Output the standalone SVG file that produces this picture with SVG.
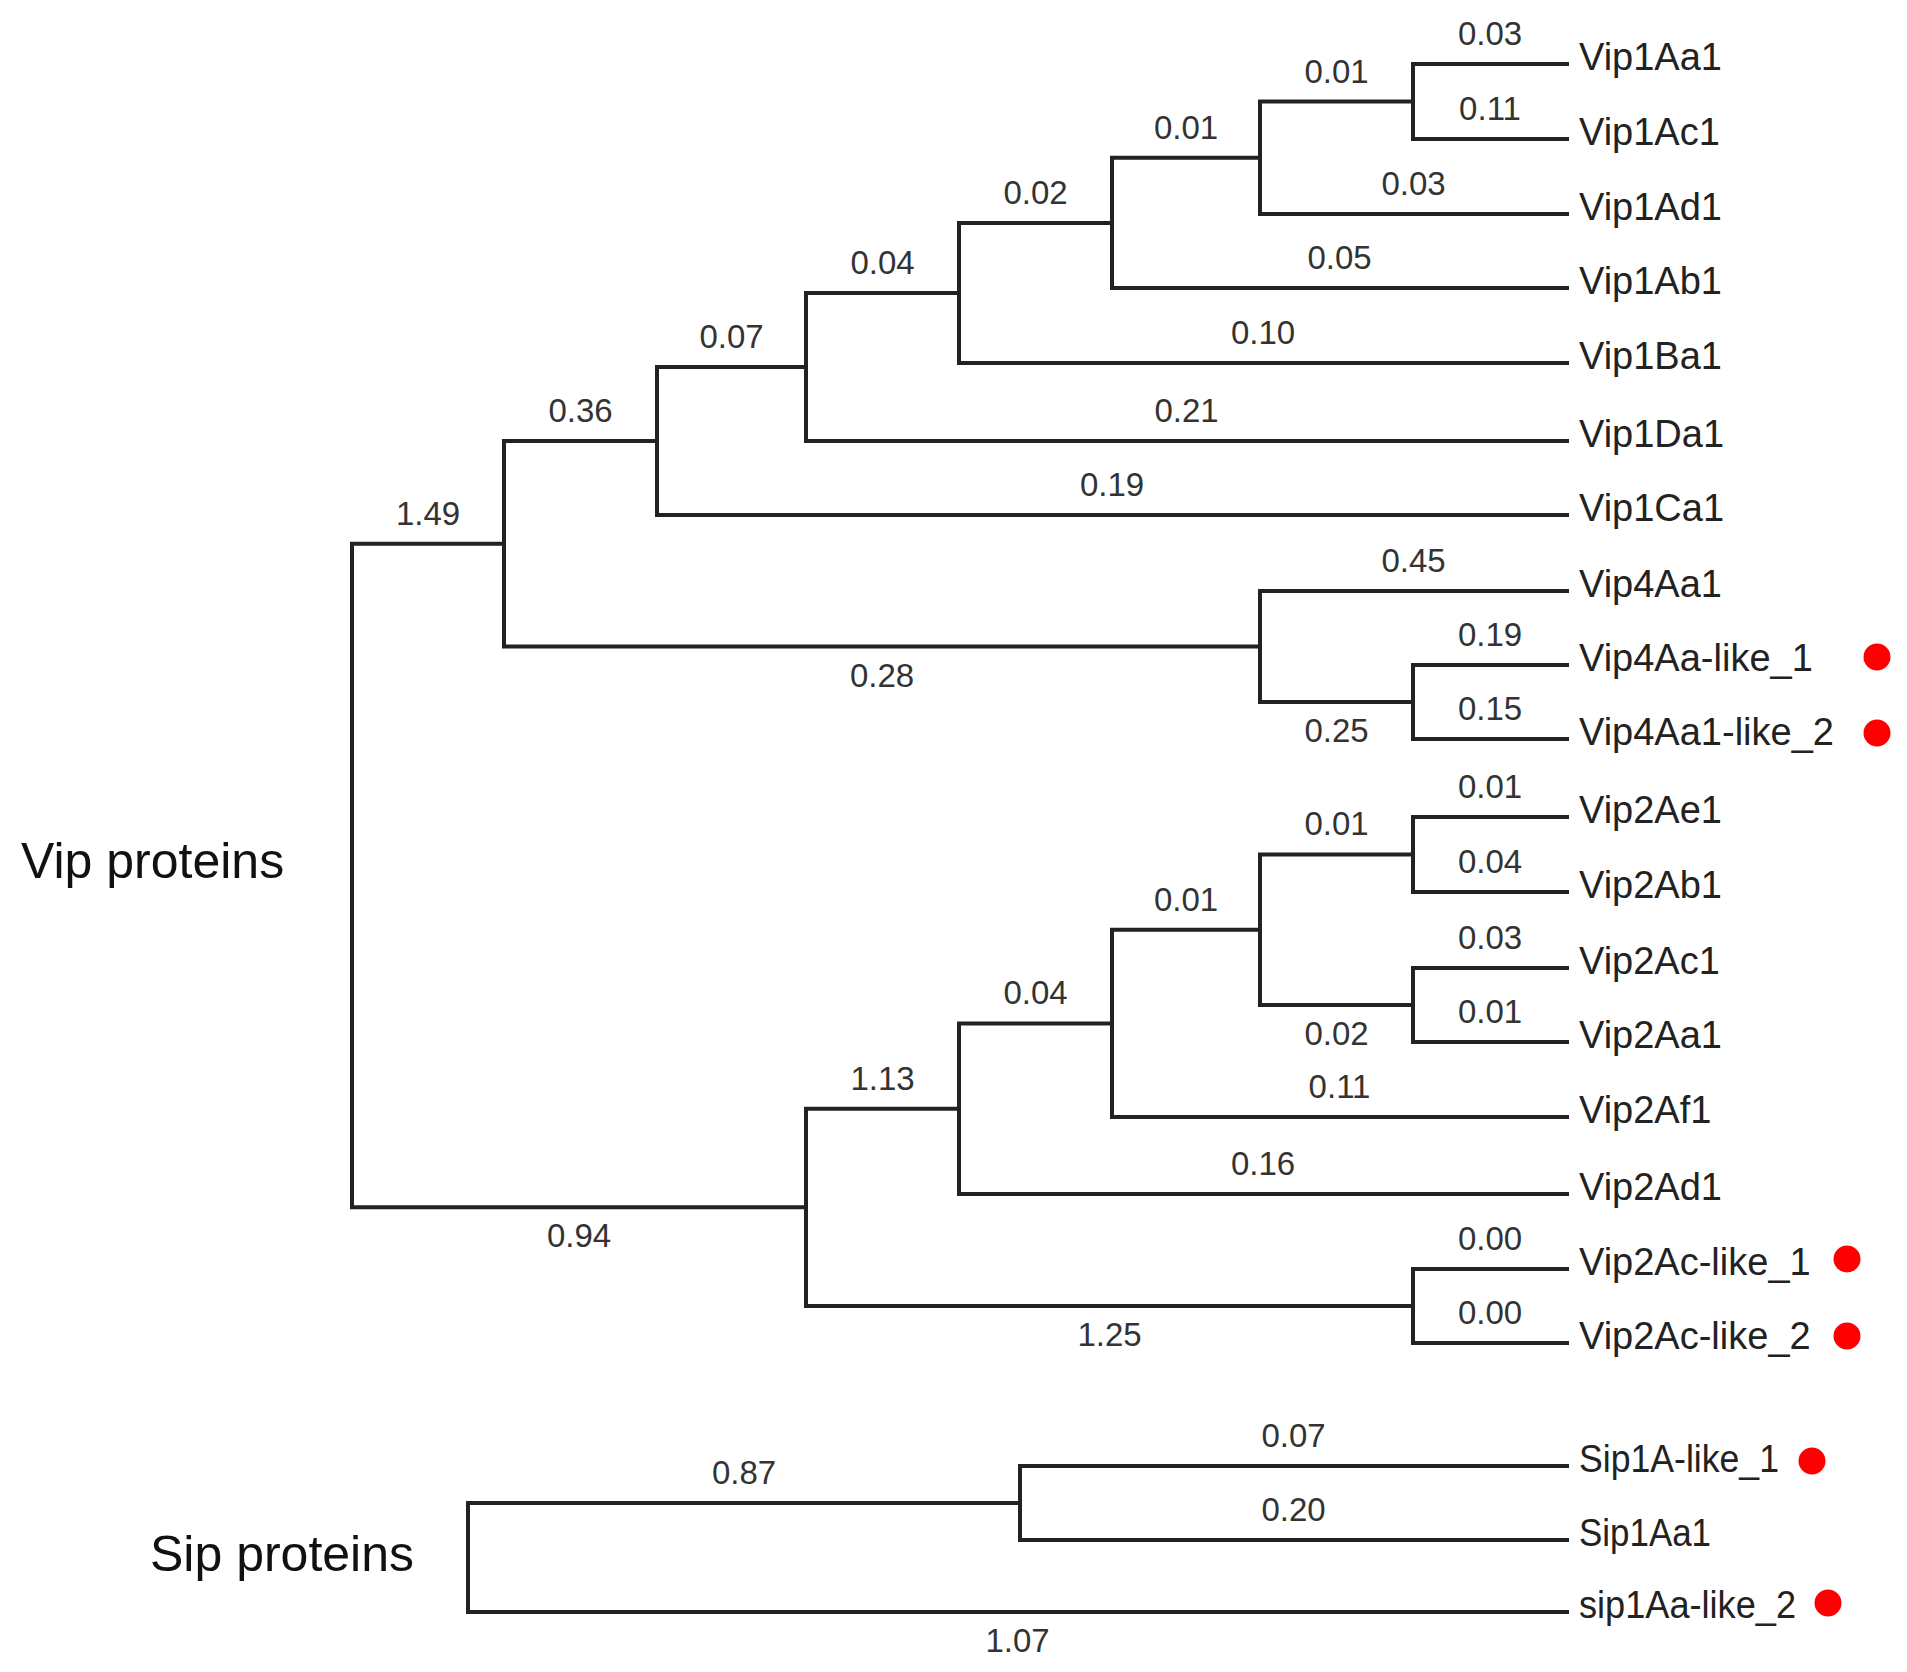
<svg xmlns="http://www.w3.org/2000/svg" width="1907" height="1672" viewBox="0 0 1907 1672">
<style>
.br{fill:none;stroke:#222;stroke-width:4;stroke-linejoin:miter;stroke-linecap:square}
.bl{font-family:"Liberation Sans",Arial,sans-serif;font-size:33px;fill:#333;text-anchor:middle}
.leaf{font-family:"Liberation Sans",Arial,sans-serif;font-size:38px;fill:#222}
.grp{font-family:"Liberation Sans",Arial,sans-serif;font-size:50px;fill:#111}
.dot{fill:#ff0000}
</style>
<rect width="1907" height="1672" fill="#fff"/>
<g id="connectors">
<path class="br" d="M1567 64 H1413 V139 H1567"/>
<path class="br" d="M1413 101.5 H1260 V214 H1567"/>
<path class="br" d="M1260 157.75 H1112 V288 H1567"/>
<path class="br" d="M1112 222.9 H959 V363 H1567"/>
<path class="br" d="M959 293 H806 V441 H1567"/>
<path class="br" d="M806 367 H657 V515 H1567"/>
<path class="br" d="M1567 665 H1413 V739 H1567"/>
<path class="br" d="M1567 591 H1260 V702 H1413"/>
<path class="br" d="M657 441 H504 V646.5 H1260"/>
<path class="br" d="M1567 817 H1413 V892 H1567"/>
<path class="br" d="M1567 968 H1413 V1042 H1567"/>
<path class="br" d="M1413 854.5 H1260 V1005 H1413"/>
<path class="br" d="M1260 929.75 H1112 V1117 H1567"/>
<path class="br" d="M1112 1023.4 H959 V1194 H1567"/>
<path class="br" d="M1567 1269 H1413 V1343 H1567"/>
<path class="br" d="M959 1108.7 H806 V1306 H1413"/>
<path class="br" d="M504 543.75 H352 V1207.3 H806"/>
<path class="br" d="M1567 1466 H1020 V1540 H1567"/>
<path class="br" d="M1020 1503 H468 V1612 H1567"/>
<g id="branch-lengths">
<text class="bl" x="1490" y="45">0.03</text>
<text class="bl" x="1490" y="120">0.11</text>
<text class="bl" x="1336.5" y="82.5">0.01</text>
<text class="bl" x="1413.5" y="195">0.03</text>
<text class="bl" x="1186" y="139">0.01</text>
<text class="bl" x="1339.5" y="269">0.05</text>
<text class="bl" x="1035.5" y="204">0.02</text>
<text class="bl" x="1263" y="344">0.10</text>
<text class="bl" x="882.5" y="274">0.04</text>
<text class="bl" x="1186.5" y="422">0.21</text>
<text class="bl" x="731.5" y="348">0.07</text>
<text class="bl" x="1112" y="496">0.19</text>
<text class="bl" x="580.5" y="422">0.36</text>
<text class="bl" x="428" y="525">1.49</text>
<text class="bl" x="1413.5" y="572">0.45</text>
<text class="bl" x="1490" y="646">0.19</text>
<text class="bl" x="1490" y="720">0.15</text>
<text class="bl" x="1336.5" y="742">0.25</text>
<text class="bl" x="882" y="687">0.28</text>
<text class="bl" x="1490" y="798">0.01</text>
<text class="bl" x="1490" y="873">0.04</text>
<text class="bl" x="1336.5" y="835">0.01</text>
<text class="bl" x="1490" y="949">0.03</text>
<text class="bl" x="1490" y="1023">0.01</text>
<text class="bl" x="1336.5" y="1045">0.02</text>
<text class="bl" x="1186" y="911">0.01</text>
<text class="bl" x="1339.5" y="1098">0.11</text>
<text class="bl" x="1035.5" y="1004">0.04</text>
<text class="bl" x="1263" y="1175">0.16</text>
<text class="bl" x="882.5" y="1090">1.13</text>
<text class="bl" x="1490" y="1250">0.00</text>
<text class="bl" x="1490" y="1324">0.00</text>
<text class="bl" x="1109.5" y="1346">1.25</text>
<text class="bl" x="579" y="1247">0.94</text>
<text class="bl" x="1293.5" y="1447">0.07</text>
<text class="bl" x="1293.5" y="1521">0.20</text>
<text class="bl" x="744" y="1484">0.87</text>
<text class="bl" x="1017.5" y="1652">1.07</text>
</g>
</g>
<g id="Vip1Aa1"><text class="leaf" x="1579" y="70">Vip1Aa1</text></g>
<g id="Vip1Ac1"><text class="leaf" x="1579" y="145">Vip1Ac1</text></g>
<g id="Vip1Ad1"><text class="leaf" x="1579" y="220">Vip1Ad1</text></g>
<g id="Vip1Ab1"><text class="leaf" x="1579" y="294">Vip1Ab1</text></g>
<g id="Vip1Ba1"><text class="leaf" x="1579" y="369">Vip1Ba1</text></g>
<g id="Vip1Da1"><text class="leaf" x="1579" y="447">Vip1Da1</text></g>
<g id="Vip1Ca1"><text class="leaf" x="1579" y="521">Vip1Ca1</text></g>
<g id="Vip4Aa1"><text class="leaf" x="1579" y="597">Vip4Aa1</text></g>
<g id="Vip4Aa-like_1"><text class="leaf" x="1579" y="671">Vip4Aa-like_1</text><circle class="dot" cx="1877" cy="657" r="13.5"/></g>
<g id="Vip4Aa1-like_2"><text class="leaf" x="1579" y="745">Vip4Aa1-like_2</text><circle class="dot" cx="1877" cy="733" r="13.5"/></g>
<g id="Vip2Ae1"><text class="leaf" x="1579" y="823">Vip2Ae1</text></g>
<g id="Vip2Ab1"><text class="leaf" x="1579" y="898">Vip2Ab1</text></g>
<g id="Vip2Ac1"><text class="leaf" x="1579" y="974">Vip2Ac1</text></g>
<g id="Vip2Aa1"><text class="leaf" x="1579" y="1048">Vip2Aa1</text></g>
<g id="Vip2Af1"><text class="leaf" x="1579" y="1123">Vip2Af1</text></g>
<g id="Vip2Ad1"><text class="leaf" x="1579" y="1200">Vip2Ad1</text></g>
<g id="Vip2Ac-like_1"><text class="leaf" x="1579" y="1275">Vip2Ac-like_1</text><circle class="dot" cx="1847" cy="1259" r="13.5"/></g>
<g id="Vip2Ac-like_2"><text class="leaf" x="1579" y="1349">Vip2Ac-like_2</text><circle class="dot" cx="1847" cy="1336" r="13.5"/></g>
<g id="Sip1A-like_1"><text class="leaf" x="1579" y="1472" textLength="200" lengthAdjust="spacingAndGlyphs">Sip1A-like_1</text><circle class="dot" cx="1812" cy="1461" r="13.5"/></g>
<g id="Sip1Aa1"><text class="leaf" x="1579" y="1546" textLength="132" lengthAdjust="spacingAndGlyphs">Sip1Aa1</text></g>
<g id="sip1Aa-like_2"><text class="leaf" x="1579" y="1618" textLength="217" lengthAdjust="spacingAndGlyphs">sip1Aa-like_2</text><circle class="dot" cx="1828" cy="1603" r="13.5"/></g>
<g id="vip-proteins"><text class="grp" x="21" y="878">Vip proteins</text></g>
<g id="sip-proteins"><text class="grp" x="150" y="1571">Sip proteins</text></g>
</svg>
